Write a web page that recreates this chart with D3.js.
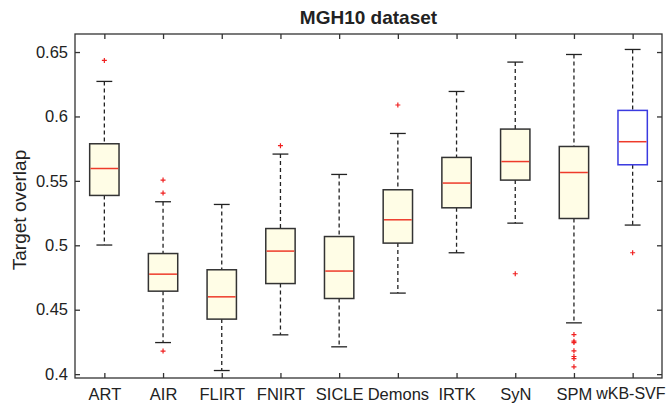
<!DOCTYPE html>
<html><head><meta charset="utf-8">
<script src="https://cdn.jsdelivr.net/npm/d3@7"></script>
<style>body{margin:0;background:#fff}svg{display:block}text{font-family:"Liberation Sans",Arial,sans-serif;fill:#222}</style>
</head><body><svg id="c" width="666" height="410"></svg>
<script>
const categories = ["ART","AIR","FLIRT","FNIRT","SICLE","Demons","IRTK","SyN","SPM","wKB-SVF"];
const whiskerLow  = [0.5002,0.4245,0.4028,0.4305,0.4212,0.4629,0.4942,0.5172,0.4398,0.5157];
const q1          = [0.5387,0.4644,0.4427,0.4703,0.4587,0.5017,0.5291,0.5506,0.5208,0.5625];
const median      = [0.5596,0.4776,0.4600,0.4955,0.4800,0.5198,0.5483,0.5650,0.5565,0.5804];
const q3          = [0.5788,0.4936,0.4810,0.5130,0.5068,0.5431,0.5682,0.5902,0.5767,0.6047];
const whiskerHigh = [0.6272,0.5338,0.5317,0.5708,0.5550,0.5868,0.6194,0.6422,0.6481,0.6520];
const outliers = [
  [0.6435],
  [0.5506,0.5405,0.4179],
  [],
  [0.5773],
  [],
  [0.6089],
  [],
  [0.4779],
  [0.4307,0.4256,0.4245,0.4181,0.4137,0.4121,0.4057],
  [0.4942]
];
const yTicks = [0.4,0.45,0.5,0.55,0.6,0.65];
const highlight = "wKB-SVF";

const W=666;
const svg = d3.select("#c");
const L=75,R=662,T=34,B=378;
const x = d3.scalePoint().domain(categories).range([L,R]).padding(0.5);
const y = d3.scaleLinear().domain([0.397,0.664]).range([B,T]);
const step = x.step();
const bw = step*0.5, cw = step*0.27;

const data = categories.map((c,i)=>({c,lo:whiskerLow[i],q1:q1[i],med:median[i],q3:q3[i],hi:whiskerHigh[i],out:outliers[i]}));

const g = svg.append("g");
data.forEach(d=>{
  const cx = x(d.c);
  const col = d.c===highlight ? "#3a3ae0" : "#333";
  const fill = d.c===highlight ? "#fff" : "#fffde6";
  g.append("line").attr("x1",cx).attr("x2",cx).attr("y1",y(d.hi)).attr("y2",y(d.q3))
    .attr("stroke","#222").attr("stroke-width",1.3).attr("stroke-dasharray","4,3");
  g.append("line").attr("x1",cx).attr("x2",cx).attr("y1",y(d.q1)).attr("y2",y(d.lo))
    .attr("stroke","#222").attr("stroke-width",1.3).attr("stroke-dasharray","4,3");
  [d.hi,d.lo].forEach(v=>g.append("line").attr("x1",cx-cw/2).attr("x2",cx+cw/2)
    .attr("y1",y(v)).attr("y2",y(v)).attr("stroke","#222").attr("stroke-width",1.3));
  g.append("rect").attr("x",cx-bw/2).attr("width",bw).attr("y",y(d.q3)).attr("height",y(d.q1)-y(d.q3))
    .attr("fill",fill).attr("stroke",col).attr("stroke-width",1.5);
  g.append("line").attr("x1",cx-bw/2+0.8).attr("x2",cx+bw/2-0.8).attr("y1",y(d.med)).attr("y2",y(d.med))
    .attr("stroke","#ee3a2a").attr("stroke-width",1.5);
  d.out.forEach(v=>{
    const yy=y(v);
    g.append("path").attr("d",`M${cx-2.5},${yy}H${cx+2.5}M${cx},${yy-2.5}V${yy+2.5}`)
      .attr("stroke","#f02020").attr("stroke-width",1.2);
  });
});

const tl=5;
const ax = svg.append("g");
ax.append("rect").attr("x",L).attr("y",T).attr("width",R-L).attr("height",B-T)
  .attr("fill","none").attr("stroke","#333").attr("stroke-width",1.3);
const axL = d3.axisLeft(y).tickValues(yTicks).tickSize(-tl).tickPadding(7).tickFormat(d3.format("~g"));
const la = ax.append("g").attr("transform",`translate(${L},0)`).call(axL);
const axR = d3.axisRight(y).tickValues(yTicks).tickSize(-tl).tickFormat("");
ax.append("g").attr("transform",`translate(${R},0)`).call(axR);
const axB = d3.axisBottom(x).tickSize(-tl).tickPadding(10);
const ba = ax.append("g").attr("transform",`translate(0,${B})`).call(axB);
const axT = d3.axisTop(x).tickSize(-tl).tickFormat("");
ax.append("g").attr("transform",`translate(0,${T})`).call(axT);
ax.selectAll(".domain").remove();
ax.selectAll(".tick line").attr("stroke","#333").attr("stroke-width",1.3);
la.selectAll("text").attr("font-size",16.5).style("font-family","Liberation Sans, Arial, sans-serif").attr("fill","#222");
ba.selectAll("text").attr("font-size",16.5).style("font-family","Liberation Sans, Arial, sans-serif").attr("fill","#222");
// keep the last category label inside the picture
ba.selectAll(".tick").each(function(d){
  const t = d3.select(this).select("text");
  let w = t.node().getComputedTextLength();
  if(x(d) + w/2 > W-1){
    t.attr("font-size",16);
    w = t.node().getComputedTextLength();
    const over = x(d) + w/2 - (W-1);
    if(over>0) t.attr("dx", -over);
  }
});

svg.append("text").attr("x",(L+R)/2).attr("y",23.5).attr("text-anchor","middle")
  .attr("font-size",19).attr("font-weight","bold").attr("fill","#111").text("MGH10 dataset");
svg.append("text").attr("transform",`translate(26,210) rotate(-90)`).attr("text-anchor","middle")
  .attr("font-size",19).text("Target overlap");
</script></body></html>
